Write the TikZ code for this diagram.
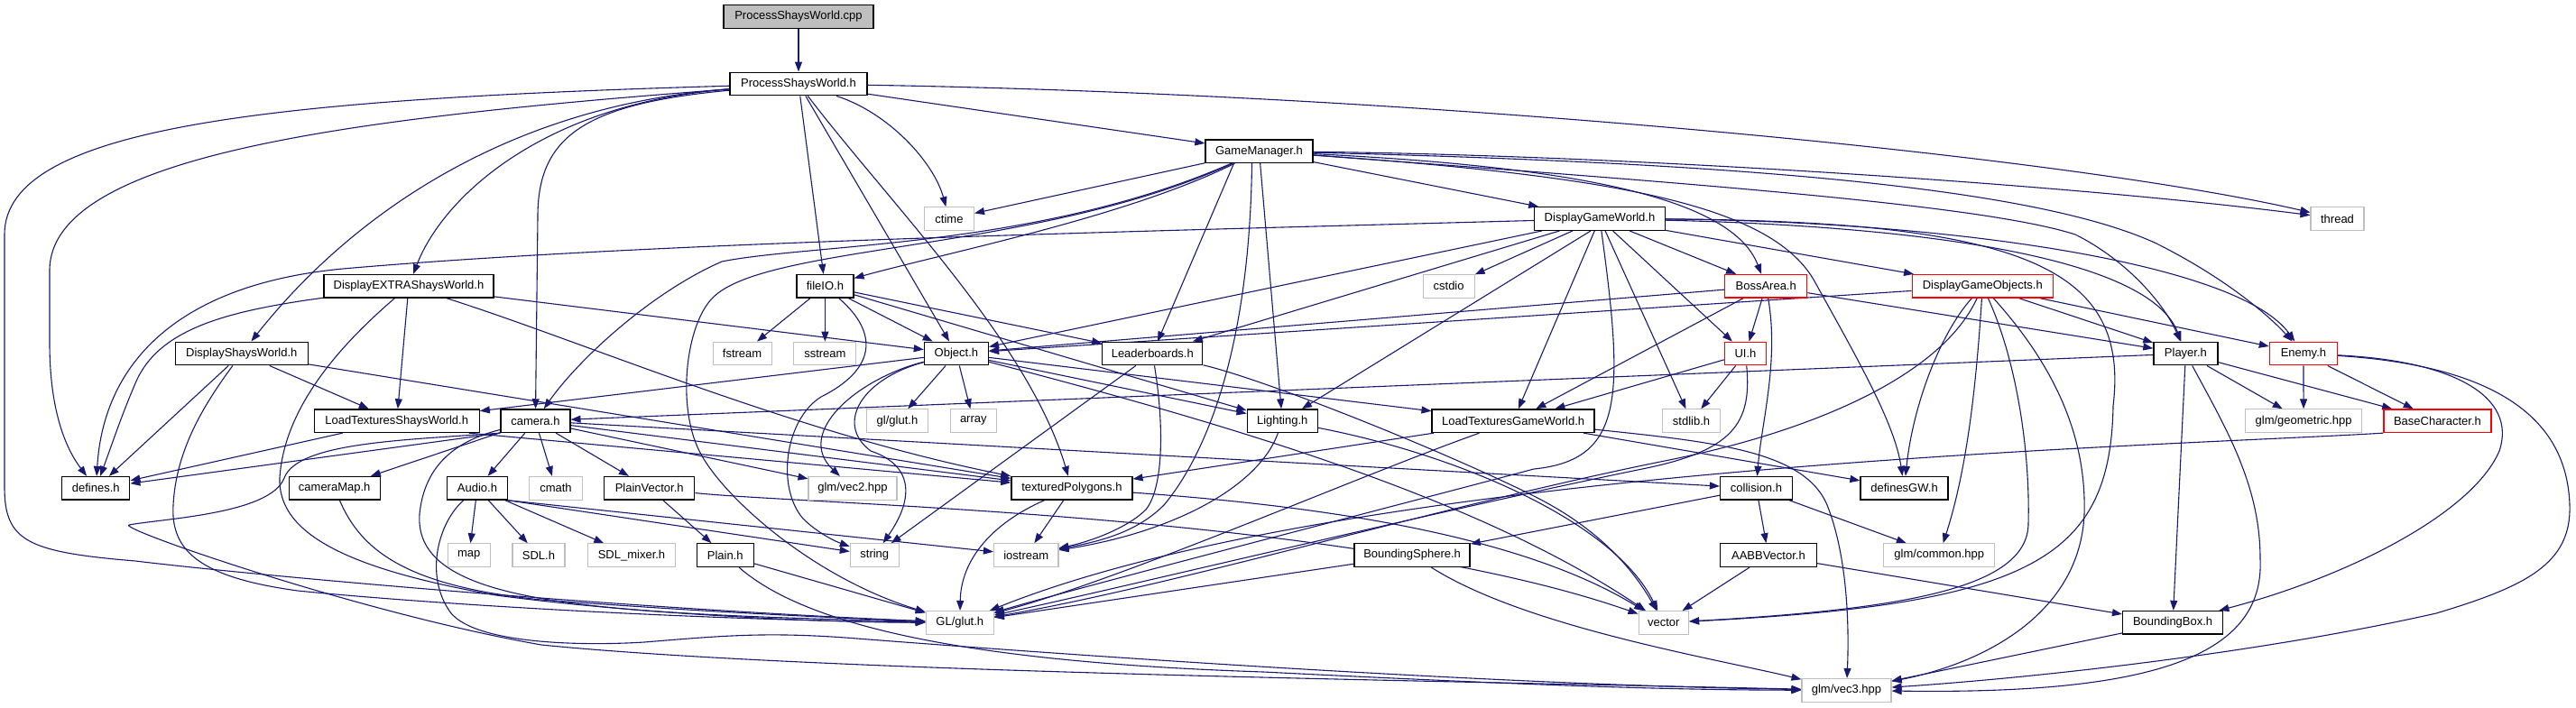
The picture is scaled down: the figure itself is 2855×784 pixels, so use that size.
\documentclass[tikz,border=0pt]{standalone}
\usepackage{fontspec}
\setmainfont{Liberation Sans}
\usetikzlibrary{arrows.meta}
\definecolor{edgec}{HTML}{191970}
\definecolor{grayb}{HTML}{BFBFBF}
\definecolor{redb}{HTML}{FF0000}
\pgfdeclarelayer{bg}
\pgfsetlayers{bg,main}
\begin{document}
\begin{tikzpicture}[x=1pt,y=-1pt,
  base/.style={rectangle, inner sep=0pt, minimum height=25.6pt, font=\fontsize{13}{15}\selectfont, fill=white, text=black},
  nb/.style={base, draw=black, line width=1.3pt},
  sb/.style={base, draw=grayb, line width=1.1pt},
  rb/.style={base, draw=redb, line width=1.3pt},
  cb/.style={base, draw=black, line width=1.3pt, fill=grayb},
  ed/.style={draw=edgec, line width=1.1pt, -{Triangle[length=11pt,width=8pt]}}]
\path[use as bounding box] (0,0) rectangle (2855,784);
% nodes
\node[cb, minimum width=166pt] (cpp) at (885,18.5) {ProcessShaysWorld.cpp};
\node[nb, minimum width=152pt] (psw) at (885,93) {ProcessShaysWorld.h};
\node[nb, minimum width=119pt] (gm) at (1395.5,167.7) {GameManager.h};
\node[sb, minimum width=55pt] (ctime) at (1052,242.5) {ctime};
\node[nb, minimum width=145pt] (dgw) at (1773,242.5) {DisplayGameWorld.h};
\node[sb, minimum width=59pt] (thread) at (2590.5,242.5) {thread};
\node[nb, minimum width=188pt] (dextra) at (453,317.3) {DisplayEXTRAShaysWorld.h};
\node[nb, minimum width=63pt] (fileio) at (914.4,317.3) {fileIO.h};
\node[sb, minimum width=57pt] (cstdio) at (1605.6,317.3) {cstdio};
\node[rb, minimum width=91pt] (boss) at (1957.2,317.3) {BossArea.h};
\node[rb, minimum width=156pt] (dgo) at (2197.3,317.3) {DisplayGameObjects.h};
\node[nb, minimum width=147pt] (dshays) at (267.8,392) {DisplayShaysWorld.h};
\node[sb, minimum width=65pt] (fstream) at (822.6,392) {fstream};
\node[sb, minimum width=69pt] (sstream) at (914.4,392) {sstream};
\node[nb, minimum width=71pt] (object) at (1059.9,392) {Object.h};
\node[nb, minimum width=111pt] (leader) at (1277.3,392) {Leaderboards.h};
\node[rb, minimum width=46pt] (ui) at (1934.4,392) {UI.h};
\node[nb, minimum width=71pt] (player) at (2422.4,392) {Player.h};
\node[rb, minimum width=75pt] (enemy) at (2552.9,392) {Enemy.h};
\node[nb, minimum width=183pt] (ltsw) at (439.7,466.7) {LoadTexturesShaysWorld.h};
\node[nb, minimum width=77pt] (camera) at (593.4,466.7) {camera.h};
\node[sb, minimum width=68pt] (glglut) at (994.5,466.7) {gl/glut.h};
\node[sb, minimum width=51pt] (array) at (1078.8,466.7) {array};
\node[nb, minimum width=78pt] (lighting) at (1421.2,466.7) {Lighting.h};
\node[nb, minimum width=180pt] (ltgw) at (1677.1,466.7) {LoadTexturesGameWorld.h};
\node[sb, minimum width=64pt] (stdlib) at (1874.5,466.7) {stdlib.h};
\node[sb, minimum width=129pt] (geometric) at (2553.1,466.7) {glm/geometric.hpp};
\node[rb, minimum width=119pt] (basechar) at (2701.4,466.7) {BaseCharacter.h};
\node[nb, minimum width=75pt] (defines) at (106.3,541.3) {defines.h};
\node[nb, minimum width=101pt] (cameramap) at (370.7,541.3) {cameraMap.h};
\node[nb, minimum width=67pt] (audio) at (529,541.3) {Audio.h};
\node[sb, minimum width=59pt] (cmath) at (616,541.3) {cmath};
\node[nb, minimum width=100pt] (plainvec) at (719.7,541.3) {PlainVector.h};
\node[sb, minimum width=98pt] (vec2) at (945,541.3) {glm/vec2.hpp};
\node[nb, minimum width=134pt] (texpoly) at (1187.9,541.3) {texturedPolygons.h};
\node[nb, minimum width=80pt] (collision) at (1946.5,541.3) {collision.h};
\node[nb, minimum width=97pt] (definesgw) at (2110.5,541.3) {definesGW.h};
\node[sb, minimum width=47pt] (map) at (519.8,615.6) {map};
\node[sb, minimum width=58pt] (sdl) at (597,615.6) {SDL.h};
\node[sb, minimum width=97pt] (sdlmixer) at (700,615.6) {SDL\_mixer.h};
\node[nb, minimum width=63pt] (plain) at (803.7,615.6) {Plain.h};
\node[sb, minimum width=54pt] (string) at (969.3,615.6) {string};
\node[sb, minimum width=71.5pt] (iostream) at (1137.2,615.6) {iostream};
\node[nb, minimum width=128pt] (bsphere) at (1565.1,615.6) {BoundingSphere.h};
\node[nb, minimum width=107pt] (aabb) at (1959.9,615.6) {AABBVector.h};
\node[sb, minimum width=123pt] (common) at (2149.3,615.6) {glm/common.hpp};
\node[sb, minimum width=75pt] (GLglut) at (1063.8,690.3) {GL/glut.h};
\node[sb, minimum width=55.5pt] (vector) at (1843.8,690.5) {vector};
\node[nb, minimum width=111pt] (bbox) at (2408.1,690.3) {BoundingBox.h};
\node[sb, minimum width=99pt] (vec3) at (2046.5,765.3) {glm/vec3.hpp};
\begin{pgfonlayer}{bg}
\fill[white] (0,0) rectangle (2855,784);
% cpp
\draw[ed] (cpp) -- (psw);
% psw
\draw[ed] (psw) -- (gm);
\draw[ed] (psw) .. controls (985,125) and (1035,180) .. (ctime);
\draw[ed] (psw) .. controls (1600,105) and (2300,175) .. (thread);
\draw[ed] (psw) .. controls (600,115) and (490,220) .. (dextra);
\draw[ed] (psw) .. controls (550,118) and (380,250) .. (dshays);
\draw[ed] (psw) .. controls (400,130) and (55,170) .. (55,300) -- (55,380) .. controls (55,460) and (75,500) .. (defines);
\draw[ed] (psw) .. controls (300,110) and (5,140) .. (5,260) -- (5,540) .. controls (5,600) and (30,612) .. (150,622) .. controls (300,640) and (700,675) .. (GLglut);
\draw[ed] (psw) .. controls (650,115) and (596,150) .. (596,240) -- (camera);
\draw[ed] (psw) -- (fileio);
\draw[ed] (psw) -- (object);
\draw[ed] (psw) .. controls (990,230) and (1140,380) .. (texpoly);
% gm
\draw[ed] (gm) -- (ctime);
\draw[ed] (gm) .. controls (1800,172) and (2300,205) .. (thread);
\draw[ed] (gm) -- (dgw);
\draw[ed] (gm) .. controls (1250,240) and (1050,280) .. (fileio);
\draw[ed] (gm) .. controls (1150,275) and (900,270) .. (800,290) .. controls (720,325) and (640,400) .. (camera);
\draw[ed] (gm) .. controls (1150,280) and (850,270) .. (790,330) .. controls (760,360) and (750,450) .. (775,500) .. controls (800,550) and (900,640) .. (GLglut);
\draw[ed] ([xshift=-28pt]gm.south) -- (leader);
\draw[ed] (gm) -- (lighting);
\draw[ed] ([xshift=-8pt]gm.south) .. controls (1385,380) and (1340,500) .. (1290,560) .. controls (1260,590) and (1220,600) .. (iostream);
\draw[ed] (gm) .. controls (1750,185) and (1920,220) .. (boss);
\draw[ed] (gm) .. controls (1900,205) and (2200,228) .. (2300,260) .. controls (2360,290) and (2400,340) .. (player);
\draw[ed] (gm) .. controls (1900,180) and (2250,205) .. (2390,270) .. controls (2460,305) and (2510,345) .. (enemy);
\draw[ed] (gm) .. controls (1780,195) and (1960,225) .. (2010,310) .. controls (2060,400) and (2100,470) .. (definesgw);
% dgw
\draw[ed] (dgw) .. controls (1200,258) and (700,270) .. (380,298) .. controls (200,315) and (115,400) .. (defines);
\draw[ed] (dgw) -- (object);
\draw[ed] (dgw) -- (leader);
\draw[ed] (dgw) -- (cstdio);
\draw[ed] ([xshift=-10pt]dgw.south) -- (lighting);
\draw[ed] (dgw) -- (ltgw);
\draw[ed] (dgw) .. controls (1800,440) and (1800,510) .. (1700,520) .. controls (1550,560) and (1200,650) .. (GLglut);
\draw[ed] (dgw) -- (stdlib);
\draw[ed] (dgw) -- (ui);
\draw[ed] (dgw) -- (boss);
\draw[ed] (dgw) -- (dgo);
\draw[ed] (dgw) .. controls (2100,250) and (2380,280) .. (player);
\draw[ed] (dgw) .. controls (2150,245) and (2480,290) .. (enemy);
\draw[ed] (dgw) .. controls (2250,245) and (2360,300) .. (2342,450) .. controls (2339,620) and (2250,670) .. (vector);
% dextra
\draw[ed] (dextra) .. controls (250,345) and (175,365) .. (150,425) .. controls (135,460) and (125,490) .. (defines);
\draw[ed] (dextra) -- (ltsw);
\draw[ed] (dextra) .. controls (380,380) and (315,450) .. (310,530) .. controls (308,590) and (380,630) .. (550,660) .. controls (700,680) and (900,690) .. (GLglut);
\draw[ed] (dextra) .. controls (650,380) and (880,480) .. (texpoly);
\draw[ed] (dextra) -- (object);
% dshays
\draw[ed] (dshays) -- (defines);
\draw[ed] (dshays) -- (ltsw);
\draw[ed] (dshays) .. controls (225,450) and (195,500) .. (192,560) .. controls (189,610) and (220,640) .. (330,655) .. controls (500,672) and (800,688) .. (GLglut);
\draw[ed] (dshays) -- (texpoly);
% ltsw
\draw[ed] (ltsw) -- (defines);
\draw[ed] ([xshift=80pt]ltsw.south) -- (texpoly);
% camera
\draw[ed] (camera.south west) -- (defines);
\draw[ed] (camera) -- (cameramap);
\draw[ed] (camera) -- (audio);
\draw[ed] (camera) -- (cmath);
\draw[ed] (camera) -- (plainvec);
\draw[ed] (camera) -- (vec2);
\draw[ed] (camera) -- (texpoly);
\draw[ed] (camera) -- (collision);
\draw[ed] (camera) .. controls (500,490) and (470,520) .. (465,570) .. controls (458,670) and (650,680) .. (GLglut);
\draw[ed] (camera.south west) .. controls (450,488) and (330,490) .. (315,530) .. controls (300,570) and (180,575) .. (143,582) .. controls (130,586) and (400,680) .. (600,715) .. controls (900,745) and (1600,755) .. (vec3);
% cameramap
\draw[ed] (cameramap) .. controls (400,610) and (450,650) .. (600,665) .. controls (800,680) and (950,686) .. (GLglut);
% audio
\draw[ed] (audio) -- (map);
\draw[ed] (audio) -- (sdl);
\draw[ed] (audio) -- (sdlmixer);
\draw[ed] (audio.south east) -- (string);
\draw[ed] (audio.south east) -- (iostream);
\draw[ed] (audio) .. controls (485,580) and (470,640) .. (500,680) .. controls (530,715) and (650,716) .. (714,712) .. controls (800,705) and (850,700) .. (950,708) .. controls (1300,735) and (1700,760) .. (vec3);
% plainvec
\draw[ed] (plainvec) -- (plain);
\draw[ed] (plainvec) .. controls (900,560) and (1500,570) .. (vector);
% plain
\draw[ed] (plain) -- (GLglut);
\draw[ed] (plain) .. controls (900,700) and (1100,735) .. (1400,745) .. controls (1700,760) and (1850,765) .. (vec3);
% texpoly
\draw[ed] (texpoly) .. controls (1100,580) and (1065,620) .. (GLglut);
\draw[ed] (texpoly) -- (iostream);
\draw[ed] (texpoly) .. controls (1450,560) and (1680,590) .. (vector);
% collision
\draw[ed] (collision) -- (bsphere);
\draw[ed] (collision) -- (aabb);
\draw[ed] (collision) -- (common);
% bsphere
\draw[ed] (bsphere) -- (GLglut);
\draw[ed] (bsphere) .. controls (1690,695) and (1900,730) .. (vec3);
% aabb
\draw[ed] (aabb) -- (vector);
\draw[ed] (aabb) -- (bbox);
% bbox
\draw[ed] (bbox) -- (vec3);
% player
\draw[ed] (player) -- (camera);
\draw[ed] (player) -- (geometric);
\draw[ed] (player) -- (basechar);
\draw[ed] (player) -- (bbox);
\draw[ed] (player) .. controls (2470,480) and (2505,540) .. (2505,620) .. controls (2510,730) and (2380,770) .. (vec3);
% enemy
\draw[ed] (enemy) -- (geometric);
\draw[ed] (enemy) -- (basechar);
\draw[ed] (enemy) .. controls (2720,400) and (2790,440) .. (2770,500) .. controls (2740,570) and (2600,640) .. (bbox);
\draw[ed] (enemy) .. controls (2760,405) and (2845,460) .. (2848,560) .. controls (2850,625) and (2800,650) .. (2700,680) .. controls (2500,725) and (2250,752) .. (vec3);
% basechar
\draw[ed] (basechar.south west) .. controls (2400,495) and (1500,515) .. (GLglut);
% ui
\draw[ed] (ui) -- (ltgw);
\draw[ed] (ui) -- (stdlib);
\draw[ed] (ui) .. controls (1942,470) and (1920,500) .. (1820,520) .. controls (1600,565) and (1250,650) .. (GLglut);
% boss
\draw[ed] (boss) -- (object);
\draw[ed] (boss) -- (ui);
\draw[ed] (boss) -- (ltgw);
\draw[ed] (boss) .. controls (1972,400) and (1952,470) .. (collision);
\draw[ed] (boss) -- (player);
% dgo
\draw[ed] (dgo) -- (object);
\draw[ed] (dgo) -- (player);
\draw[ed] (dgo) -- (enemy);
\draw[ed] (dgo) .. controls (2150,370) and (2120,450) .. (definesgw);
\draw[ed] (dgo) .. controls (2150,420) and (2000,480) .. (1850,510) .. controls (1600,560) and (1300,650) .. (GLglut);
\draw[ed] (dgo) .. controls (2190,430) and (2180,520) .. (common);
\draw[ed] (dgo) .. controls (2235,400) and (2250,500) .. (2248,580) .. controls (2248,650) and (2120,675) .. (vector);
\draw[ed] (dgo) .. controls (2290,420) and (2312,500) .. (2310,570) .. controls (2305,680) and (2200,735) .. (vec3);
% ltgw
\draw[ed] (ltgw) -- (texpoly);
\draw[ed] (ltgw) .. controls (1500,530) and (1250,640) .. (GLglut);
\draw[ed] (ltgw) -- (definesgw);
\draw[ed] (ltgw) .. controls (1900,490) and (2000,500) .. (2025,560) .. controls (2045,610) and (2050,680) .. (vec3);
% leader
\draw[ed] (leader) -- (string);
\draw[ed] (leader) .. controls (1290,470) and (1290,540) .. (1270,565) .. controls (1250,585) and (1210,600) .. (iostream);
\draw[ed] (leader) .. controls (1400,420) and (1600,500) .. (1700,550) .. controls (1780,590) and (1815,640) .. (vector);
% lighting
\draw[ed] (lighting) .. controls (1395,540) and (1300,590) .. (iostream);
\draw[ed] (lighting) .. controls (1620,505) and (1790,580) .. (vector);
% object
\draw[ed] (object) -- (ltsw);
\draw[ed] (object) -- (glglut);
\draw[ed] (object) -- (array);
\draw[ed] (object) .. controls (955,420) and (925,470) .. (965,500) .. controls (1010,515) and (1015,550) .. (string);
\draw[ed] (object) .. controls (950,420) and (880,480) .. (vec2);
\draw[ed] (object) -- (lighting);
\draw[ed] (object) -- (ltgw);
\draw[ed] (object) .. controls (1400,480) and (1650,560) .. (vector);
% fileio
\draw[ed] (fileio) -- (fstream);
\draw[ed] (fileio) -- (sstream);
\draw[ed] (fileio) -- (object);
\draw[ed] (fileio) -- (leader);
\draw[ed] (fileio) -- (lighting);
\draw[ed] (fileio) .. controls (975,370) and (970,410) .. (910,440) .. controls (870,465) and (860,540) .. (890,575) .. controls (905,590) and (925,600) .. (string);
\end{pgfonlayer}
\end{tikzpicture}
\end{document}
